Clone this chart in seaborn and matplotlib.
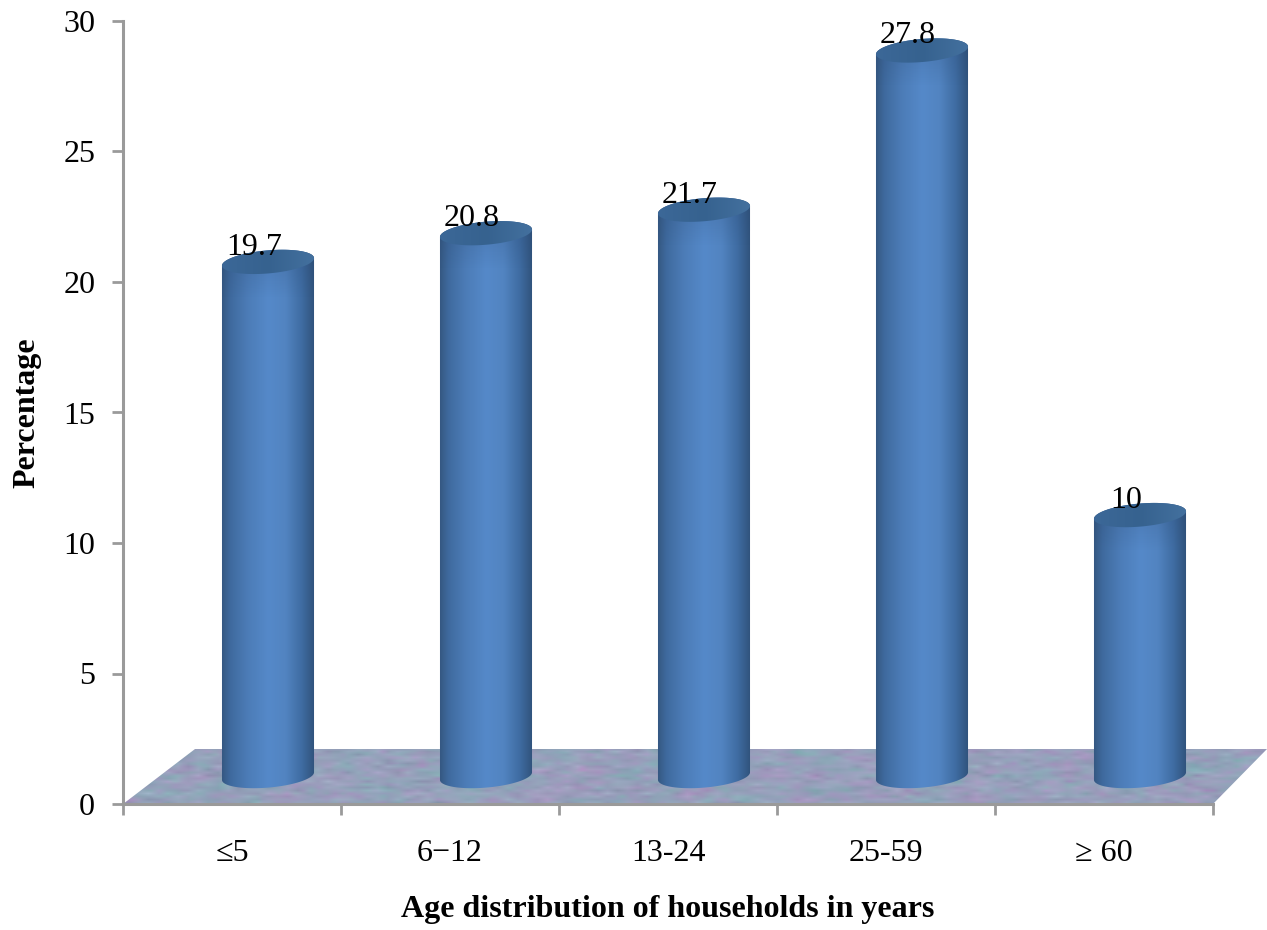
import numpy as np
import pandas as pd
import matplotlib
matplotlib.use("Agg")
import matplotlib.pyplot as plt
from matplotlib.colors import LinearSegmentedColormap
from matplotlib.patches import Polygon
import seaborn as sns

# Share of household members by age group
age_groups = ["≤5", "6−12", "13-24", "25-59", "≥ 60"]
percentages = [19.7, 20.8, 21.7, 27.8, 10]
percent_labels = ["19.7", "20.8", "21.7", "27.8", "10"]

sns.set_theme(style="white")
plt.rcParams["font.family"] = ["Liberation Serif", "DejaVu Serif"]

W, H = 1267, 930
AX_L, AX_R, AX_T, AX_B = 123, 1213, 21, 804
FONT = 23
GREY = "#9a9a9a"
fig = plt.figure(figsize=(W / 100, H / 100), dpi=100)
ax = fig.add_axes([AX_L / W, 1 - AX_B / H, (AX_R - AX_L) / W, (AX_B - AX_T) / H])

df = pd.DataFrame({"age": age_groups, "pct": percentages})
BASE = 1.07          # cylinders stand on the raised floor
SHIFT = 36 / 218     # depth offset of the cylinders from the category centre
sns.barplot(data=df, x="age", y="pct", width=92 / 218, bottom=BASE, color="#4f81bd",
            ax=ax, zorder=3, linewidth=0)
ax.set_xlim(-0.5, 4.5)
ax.set_ylim(0, 30)

px_x = 218.0               # pixels per category unit
px_y = (AX_B - AX_T) / 30  # pixels per percentage point


def ellipse_pts(cx, cy, a_px, b_px, tilt_deg, t):
    """Points of a tilted ellipse, sized in pixels and returned in data units."""
    th = np.radians(tilt_deg)
    dx = a_px * np.cos(t) * np.cos(th) - b_px * np.sin(t) * np.sin(th)
    dy = a_px * np.cos(t) * np.sin(th) + b_px * np.sin(t) * np.cos(th)
    return np.column_stack([cx + dx / px_x, cy + dy / px_y])


def smooth_noise(rng, rows, cols, cell_y, cell_x):
    """Blotchy noise: coarse cells enlarged, then softened with a box filter."""
    coarse = rng.normal(0, 1, (rows // cell_y + 2, cols // cell_x + 2))
    big = np.kron(coarse, np.ones((cell_y, cell_x)))[:rows, :cols]
    kx, ky = np.ones(cell_x) / cell_x, np.ones(cell_y) / cell_y
    big = np.apply_along_axis(lambda r: np.convolve(r, kx, mode="same"), 1, big)
    big = np.apply_along_axis(lambda c: np.convolve(c, ky, mode="same"), 0, big)
    return big / big.std()


# Floor slab with a mottled lilac, blue and teal texture
rng = np.random.RandomState(7)
rows, cols = 56, 1146
tint = smooth_noise(rng, rows, cols, 6, 18)
tint2 = smooth_noise(rng, rows, cols, 3, 8)
shade = smooth_noise(rng, rows, cols, 3, 10)
floor_tex = np.empty((rows, cols, 3))
floor_tex[..., 0] = 151 + 4.5 * tint + 2.5 * tint2 + 3 * shade
floor_tex[..., 1] = 160 - 3 * tint - 2.5 * tint2 + 3 * shade
floor_tex[..., 2] = 187 + 1 * tint + 1 * tint2 + 3 * shade
floor_tex = np.clip(floor_tex / 255, 0, 1)
floor_top = 55 / px_y
floor_poly = Polygon([(-0.5, 0), (4.5, 0), (4.5 + 54 / px_x, floor_top), (-0.5 + 72 / px_x, floor_top)],
                     closed=True, transform=ax.transData, facecolor="none", edgecolor="none")
ax.add_patch(floor_poly)
floor_poly.set_clip_on(False)
floor_im = ax.imshow(floor_tex, extent=(-0.5, 4.5 + 54 / px_x, 0, floor_top), aspect="auto",
                     interpolation="bilinear", zorder=1, origin="lower")
floor_im.set_clip_box(fig.bbox)
floor_im.set_clip_path(floor_poly)

side_cmap = LinearSegmentedColormap.from_list("side", [
    (0.00, "#34567f"), (0.10, "#3f6a9e"), (0.28, "#4c7cb7"), (0.50, "#5589c9"),
    (0.68, "#5284c1"), (0.85, "#3f6ca2"), (1.00, "#2f5078")])
top_cmap = LinearSegmentedColormap.from_list("top", ["#3c6898", "#36628f", "#44719f"])
grad = np.linspace(0, 1, 256).reshape(1, -1)
# Soft shadow falling from the rim onto the upper wall
rim_shadow = np.zeros((64, 1, 4))
rim_shadow[..., :3] = np.array([40, 70, 110]) / 255
rim_shadow[:, 0, 3] = np.linspace(0.3, 0, 64)
TILT = 5
A_PX, B_PX = 46.2, 11.5

for bar, label, value in zip(ax.patches, percent_labels, percentages):
    bar.set_x(bar.get_x() + SHIFT)
    x0, w = bar.get_x(), bar.get_width()
    cx = x0 + w / 2
    y0, y1 = bar.get_y(), bar.get_y() + bar.get_height()
    bar.set_visible(False)

    # Cylinder wall: upper half of the top rim down to the lower half of the base rim
    t_low = np.linspace(np.pi, 2 * np.pi, 60)
    t_up = np.linspace(0, np.pi, 60)
    outline = np.vstack([ellipse_pts(cx, y0, A_PX, B_PX, TILT, t_low),
                         ellipse_pts(cx, y1, A_PX, B_PX, TILT, t_up)])
    wall = Polygon(outline, closed=True, transform=ax.transData, facecolor="none", edgecolor="none")
    ax.add_patch(wall)
    im = ax.imshow(grad, extent=(x0 - 0.005, x0 + w + 0.005, y0 - 1, y1 + 1), aspect="auto",
                   cmap=side_cmap, zorder=3, interpolation="bilinear")
    im.set_clip_path(wall)
    shadow = ax.imshow(rim_shadow, extent=(x0 - 0.005, x0 + w + 0.005, y1 - 36 / px_y, y1 + 16 / px_y),
                       aspect="auto", zorder=3.5, interpolation="bilinear", origin="upper")
    shadow.set_clip_path(wall)

    # Cylinder cap
    cap = Polygon(ellipse_pts(cx, y1, A_PX, B_PX, TILT, np.linspace(0, 2 * np.pi, 120)), closed=True,
                  transform=ax.transData, facecolor="none", edgecolor="none")
    ax.add_patch(cap)
    im2 = ax.imshow(grad, extent=(x0 - 0.005, x0 + w + 0.005, y1 - 1, y1 + 1), aspect="auto",
                    cmap=top_cmap, zorder=4, interpolation="bilinear")
    im2.set_clip_path(cap)

    ax.annotate(label, (cx, value + BASE), xytext=(-14, 7), textcoords="offset pixels",
                ha="center", va="baseline", fontsize=FONT, color="black", zorder=6,
                annotation_clip=False)

ax.set_xlim(-0.5, 4.5)
ax.set_ylim(0, 30)

# Axis furniture
for side in ("top", "right"):
    ax.spines[side].set_visible(False)
for side in ("left", "bottom"):
    ax.spines[side].set_color(GREY)
    ax.spines[side].set_linewidth(2.2)
    ax.spines[side].set_zorder(2)

ax.set_yticks(range(0, 31, 5))
ax.set_xticks(np.arange(-0.5, 5, 1))
ax.set_xticklabels([])
ax.set_xticks(range(5), age_groups, minor=True)
ax.tick_params(axis="x", which="major", direction="out", length=8, width=2, color=GREY, bottom=True)
ax.tick_params(axis="x", which="minor", length=0, labelsize=FONT, pad=25, labelcolor="black", bottom=False)
ax.tick_params(axis="y", direction="out", length=8, width=2, color=GREY, left=True,
               labelsize=FONT, pad=12, labelcolor="black")
ax.grid(False)
ax.set_xlabel("")
ax.set_ylabel("")

fig.text(668 / W, 1 - 909 / H, "Age distribution of households in years", ha="center", va="center",
         fontsize=FONT, fontweight="bold", color="black")
fig.text(27 / W, 1 - 413 / H, "Percentage", ha="center", va="center", rotation=90,
         fontsize=FONT, fontweight="bold", color="black")

fig.savefig("out.png", dpi=100, facecolor="white")
